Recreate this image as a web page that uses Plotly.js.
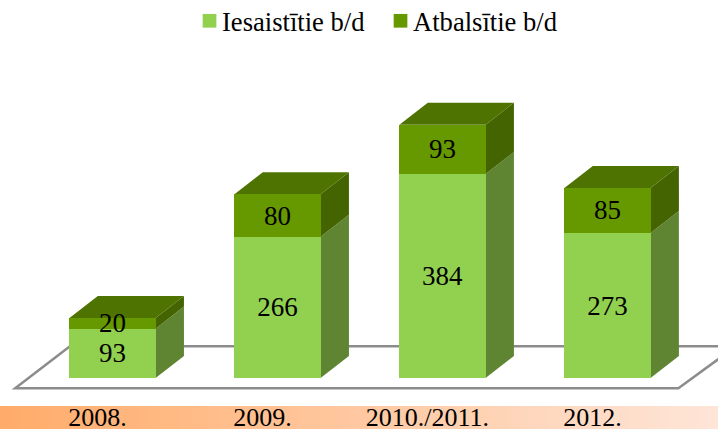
<!DOCTYPE html>
<html><head><meta charset="utf-8">
<script src="https://cdn.plot.ly/plotly-3.0.1.min.js"></script>
<style>html,body{margin:0;padding:0;background:#fff;overflow:hidden}#c{width:718px;height:429px}</style>
</head><body><div id="c"></div>
<script>
var categories = ['2008.', '2009.', '2010./2011.', '2012.'];
var iesaistitie = [93, 266, 384, 273];
var atbalsitie = [20, 80, 93, 85];
var seriesNames = ['Iesaistītie b/d', 'Atbalsītie b/d'];

var FONT = '"Liberation Serif","Times New Roman",serif';
var BAR_W = 0.522, DX = 0.172, DY = 41.5;
var shapes = [];

// gradient band behind the category labels
var STEPS = 72, from = [255,172,106], to = [254,229,216];
for (var s = 0; s < STEPS; s++) {
  var t = s / (STEPS - 1);
  var col = 'rgb(' + from.map(function (f, k) { return Math.round(f + (to[k] - f) * t); }).join(',') + ')';
  shapes.push({type:'rect', xref:'paper', yref:'paper', layer:'below', x0:s/STEPS, x1:(s+1.2)/STEPS,
    y0:-23/406, y1:0, fillcolor:col, line:{width:0}});
}
// floor
shapes.push({type:'path', xref:'x', yref:'y', layer:'below',
  path:'M -0.59 -19.2 L 3.43 -19.2 L 3.78 60 L -0.258 60 Z',
  fillcolor:'rgba(255,255,255,0)', line:{color:'#8c8c8c', width:2.5}});

function poly(pts, color) {
  shapes.push({type:'path', xref:'x', yref:'y', layer:'below',
    path:'M ' + pts.map(function (p) { return p[0] + ' ' + p[1]; }).join(' L ') + ' Z',
    fillcolor:color, line:{width:0}});
}
categories.forEach(function (c, i) {
  var L = i - BAR_W / 2, R = i + BAR_W / 2, a = iesaistitie[i], b = a + atbalsitie[i];
  poly([[R,0],[R+DX,DY],[R+DX,a+DY],[R,a]], '#5f8533');
  poly([[R,a],[R+DX,a+DY],[R+DX,b+DY],[R,b]], '#436400');
  poly([[L,b],[R,b],[R+DX,b+DY],[L+DX,b+DY]], '#4e7300');
});

var common = {type:'bar', x:categories, width:BAR_W, textposition:'inside', insidetextanchor:'middle',
  constraintext:'none', textangle:0, textfont:{family:FONT, size:27, color:'#000'},
  hoverinfo:'skip', marker:{line:{width:0}}};
var traces = [
  Object.assign({}, common, {name:seriesNames[0], y:iesaistitie, text:iesaistitie.map(String),
    marker:{color:'#92d050', line:{width:0}}}),
  Object.assign({}, common, {name:seriesNames[1], y:atbalsitie, text:atbalsitie.map(String),
    marker:{color:'#669900', line:{width:0}}})
];
var layout = {
  width:718, height:429, margin:{l:0, r:0, t:0, b:23},
  paper_bgcolor:'#fff', plot_bgcolor:'rgba(0,0,0,0)',
  barmode:'stack', showlegend:true,
  font:{family:FONT, color:'#000'},
  legend:{orientation:'h', x:0.2535, xanchor:'left', y:1, yanchor:'top',
    entrywidth:146, entrywidthmode:'pixels',
    font:{family:FONT, size:26.6, color:'#000'}, bgcolor:'rgba(0,0,0,0)', traceorder:'normal'},
  xaxis:{type:'category', categoryorder:'array', categoryarray:categories, range:[-0.682,3.67], fixedrange:true,
    showgrid:false, zeroline:false, showline:false, ticks:'', tickfont:{family:FONT, size:26, color:'#000'},
    automargin:false, ticklabelstandoff:-7, ticklabelshift:-15, tickangle:0},
  yaxis:{range:[-52.7,711.9], visible:false, fixedrange:true},
  shapes:shapes
};
Plotly.newPlot('c', traces, layout, {displayModeBar:false, staticPlot:true}).then(function (gd) {
  // nudge the native legend: row up, swatches closer to their labels and a touch larger
  var lg = gd.querySelector('.legend');
  var m = /translate\(\s*([-\d.]+)[ ,]+([-\d.]+)/.exec(lg.getAttribute('transform'));
  lg.setAttribute('transform', 'translate(' + m[1] + ',' + (parseFloat(m[2]) - 3) + ')');
  gd.querySelectorAll('.legendsymbols').forEach(function (el) {
    var old = el.getAttribute('transform') || '';
    el.setAttribute('transform', old + ' translate(7.5,0)');
  });
  gd.querySelectorAll('.legendundefined, .legendbar path, .legendpoints path').forEach(function (p) {
    p.setAttribute('transform', (p.getAttribute('transform') || '') + ' scale(1.14)');
  });
});
</script></body></html>
